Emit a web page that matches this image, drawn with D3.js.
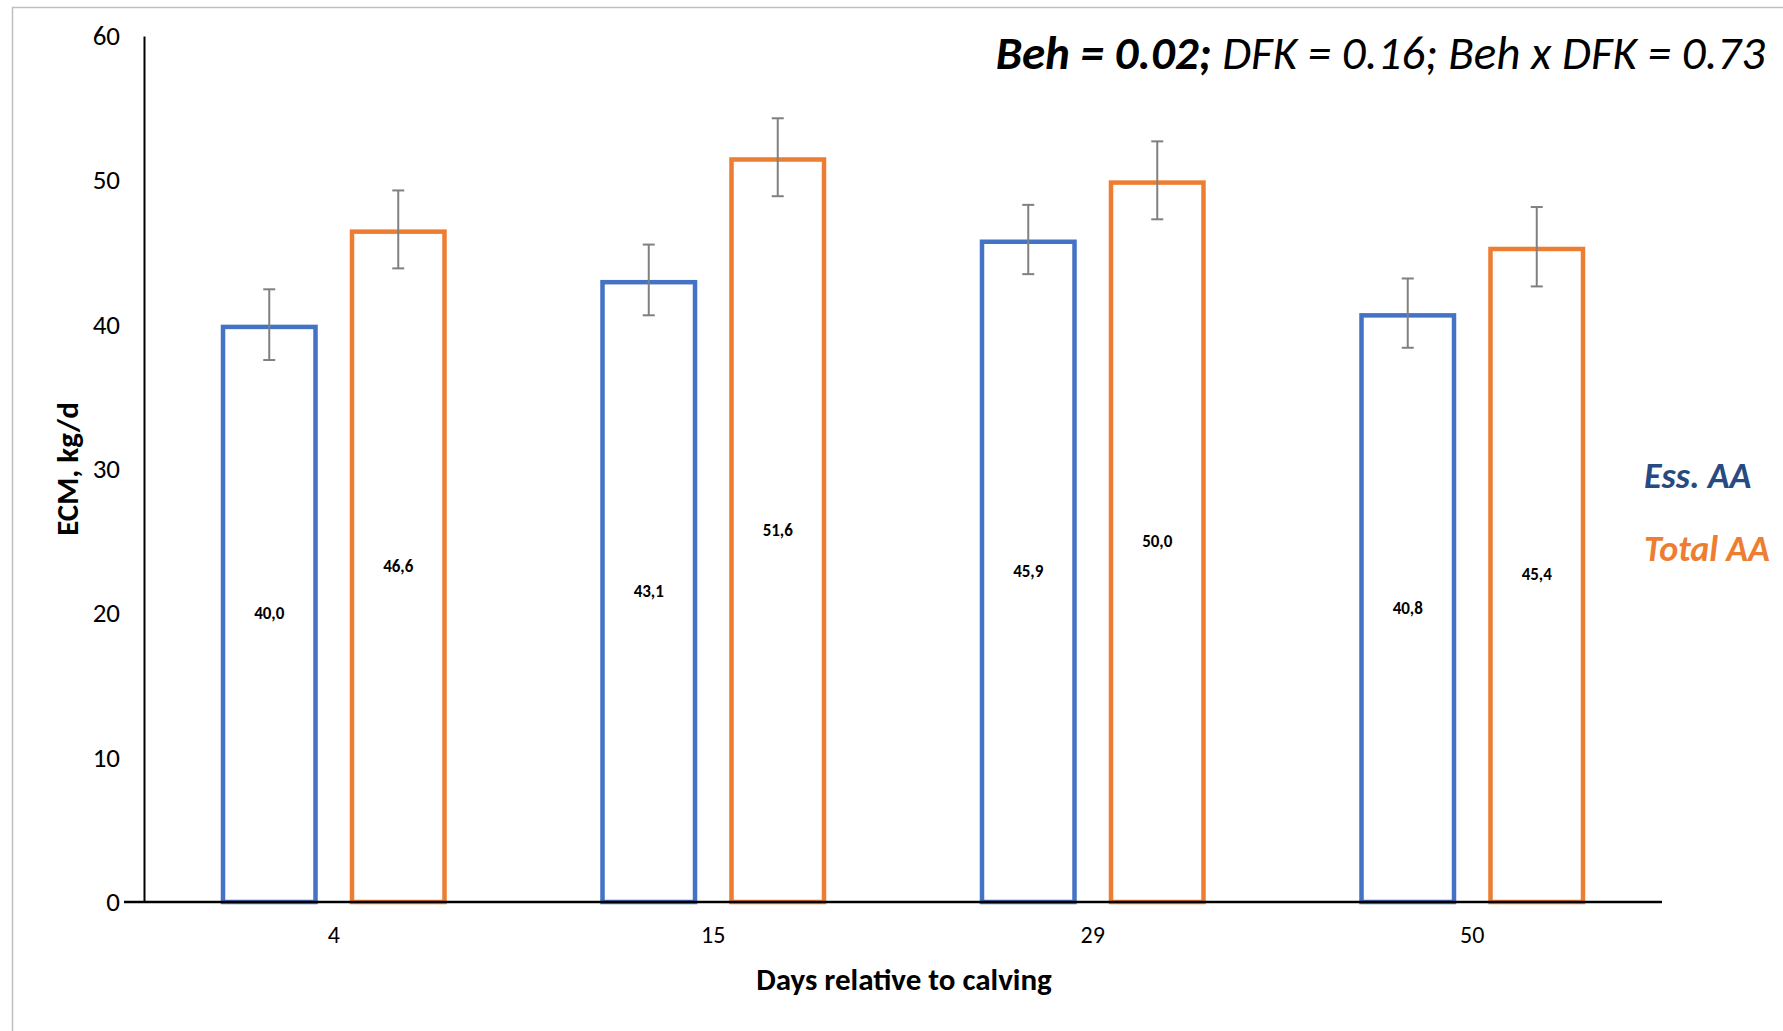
<!DOCTYPE html>
<html>
<head>
<meta charset="utf-8">
<script src="https://cdn.jsdelivr.net/npm/d3@7"></script>
<style>
  body { margin: 0; background: #fff; }
  svg { display: block; font-family: Carlito, Lato, "Open Sans", sans-serif; }
</style>
</head>
<body>
<svg width="1783" height="1031"></svg>
<script>
// Data
var days = ["4", "15", "29", "50"];
var seriesNames = ["Ess. AA", "Total AA"];
var essAA = [40.0, 43.1, 45.9, 40.8];
var totalAA = [46.6, 51.6, 50.0, 45.4];
var essErr = [2.45, 2.45, 2.4, 2.4];
var totalErr = [2.7, 2.7, 2.7, 2.75];
var yTicks = [0, 10, 20, 30, 40, 50, 60];

var colors = ["#4472C4", "#ED7D31"];
var legendColors = ["#264A82", "#ED7D31"];

var svg = d3.select("svg"),
    width = +svg.attr("width"),
    height = +svg.attr("height");

// outer chart border (light grey, runs past the picture on right and bottom)
svg.append("rect")
    .attr("x", 12.5).attr("y", 7.5)
    .attr("width", width).attr("height", height)
    .attr("fill", "none")
    .attr("stroke", "#BFBFBF")
    .attr("stroke-width", 1.5);

var x = d3.scaleBand()
    .domain(days)
    .range([144, 1662]);

var xs = d3.scaleBand()
    .domain(seriesNames)
    .range([-113, 113])
    .paddingInner(0.248);

var y = d3.scaleLinear()
    .domain([0, 60])
    .range([902, 36]);

var rows = days.map(function(d, i) {
  return [
    { day: d, s: seriesNames[0], v: essAA[i], e: essErr[i], c: colors[0] },
    { day: d, s: seriesNames[1], v: totalAA[i], e: totalErr[i], c: colors[1] }
  ];
});
var bars = [].concat.apply([], rows);

function cx(d) { return x(d.day) + x.bandwidth() / 2 + xs(d.s) + xs.bandwidth() / 2; }

var sw = 4.5;

// bars (outlined)
svg.append("g").selectAll("rect")
  .data(bars)
  .enter().append("rect")
    .attr("x", function(d) { return x(d.day) + x.bandwidth() / 2 + xs(d.s) + sw / 2; })
    .attr("y", function(d) { return y(d.v) + sw / 2; })
    .attr("width", xs.bandwidth() - sw)
    .attr("height", function(d) { return y(0) - y(d.v) - sw / 2; })
    .attr("fill", "#fff")
    .attr("stroke", function(d) { return d.c; })
    .attr("stroke-width", sw);

// y axis
var yAxis = svg.append("g")
    .attr("transform", "translate(144,0)")
    .call(d3.axisLeft(y).tickValues(yTicks).tickSize(0).tickPadding(24));
yAxis.select(".domain").attr("stroke", "#000").attr("stroke-width", 2);
yAxis.selectAll("text")
    .attr("font-family", "Carlito, Lato, 'Open Sans', sans-serif")
    .attr("font-size", 27)
    .attr("fill", "#000");

// x axis
var xAxis = svg.append("g")
    .attr("transform", "translate(0,902)")
    .call(d3.axisBottom(x).tickSize(0).tickPadding(24));
xAxis.select(".domain").attr("stroke", "#000").attr("stroke-width", 2.5)
    .attr("d", "M124,0H1662");
xAxis.selectAll("text")
    .attr("font-family", "Carlito, Lato, 'Open Sans', sans-serif")
    .attr("font-size", 24)
    .attr("fill", "#000");

// error bars
var err = svg.append("g")
    .attr("stroke", "#808080")
    .attr("stroke-width", 2);
bars.forEach(function(d) {
  var c = cx(d);
  err.append("line").attr("x1", c).attr("x2", c).attr("y1", y(d.v + d.e)).attr("y2", y(d.v - d.e));
  err.append("line").attr("x1", c - 6).attr("x2", c + 6).attr("y1", y(d.v + d.e)).attr("y2", y(d.v + d.e));
  err.append("line").attr("x1", c - 6).attr("x2", c + 6).attr("y1", y(d.v - d.e)).attr("y2", y(d.v - d.e));
});

// value labels at middle of each bar
svg.append("g").selectAll("text")
  .data(bars)
  .enter().append("text")
    .attr("x", cx)
    .attr("y", function(d) { return y(d.v / 2); })
    .attr("dy", "0.35em")
    .attr("text-anchor", "middle")
    .attr("font-size", 17)
    .attr("font-weight", "bold")
    .text(function(d) { return d.v.toFixed(1).replace(".", ","); });

// axis titles
svg.append("text")
    .attr("transform", "translate(78,469) rotate(-90)")
    .attr("text-anchor", "middle")
    .attr("font-size", 31)
    .attr("font-weight", "bold")
    .text("ECM, kg/d");

svg.append("text")
    .attr("x", 904)
    .attr("y", 990)
    .attr("text-anchor", "middle")
    .attr("font-size", 31)
    .attr("font-weight", "bold")
    .text("Days relative to calving");

// p-values
var note = svg.append("text")
    .attr("x", 1765)
    .attr("y", 69)
    .attr("text-anchor", "end")
    .attr("font-size", 47)
    .attr("font-style", "italic");
note.append("tspan").attr("font-weight", "bold").text("Beh = 0.02;");
note.append("tspan").text(" DFK = 0.16; Beh x DFK = 0.73");

// legend as coloured labels
svg.append("g").selectAll("text")
  .data(seriesNames)
  .enter().append("text")
    .attr("x", 1644)
    .attr("y", function(d, i) { return 488 + i * 73; })
    .attr("font-size", 36)
    .attr("font-weight", "bold")
    .attr("font-style", "italic")
    .attr("fill", function(d, i) { return legendColors[i]; })
    .text(function(d) { return d; });
</script>
</body>
</html>
